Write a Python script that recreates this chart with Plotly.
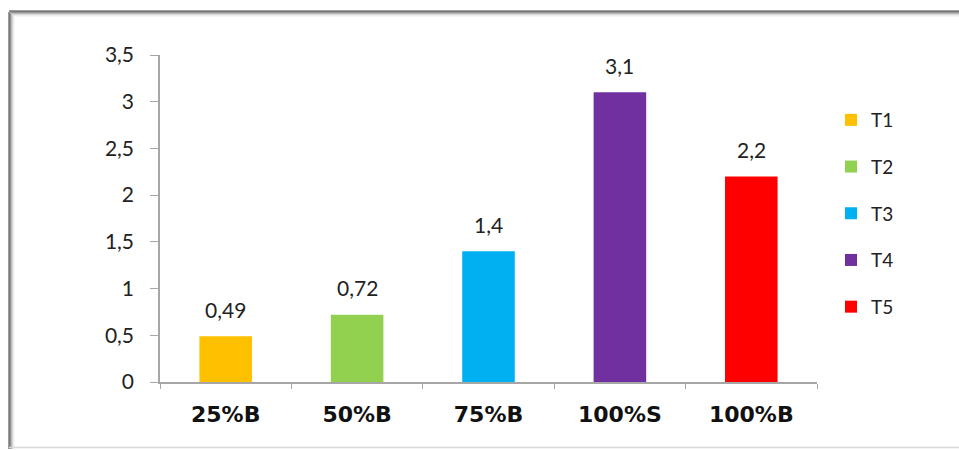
import plotly.graph_objects as go

categories = ["25%B", "50%B", "75%B", "100%S", "100%B"]
series_names = ["T1", "T2", "T3", "T4", "T5"]
values = [0.49, 0.72, 1.4, 3.1, 2.2]
labels = ["0,49", "0,72", "1,4", "3,1", "2,2"]
colors = ["#FFC000", "#92D050", "#00B0F0", "#7030A0", "#FF0000"]
tick_vals = [0, 0.5, 1, 1.5, 2, 2.5, 3, 3.5]
tick_text = ["0", "0,5", "1", "1,5", "2", "2,5", "3", "3,5"]

W, H = 959, 450
L, T = 160, 55
pw, ph = 657, 327
R, B = W - L - pw, H - T - ph

def px(x):
    return (x - L) / pw

def py(y):
    return (T + ph - y) / ph

fig = go.Figure()
for i, (cat, name, v, c) in enumerate(zip(categories, series_names, values, colors)):
    fig.add_trace(go.Bar(
        x=[cat], y=[v], name=name, marker=dict(color=c, line=dict(width=0)),
        width=0.4, legendgroup=name,
    ))
    fig.add_annotation(x=cat, y=v, text=labels[i], showarrow=False,
                       yshift=27, font=dict(family="Lato", size=21, color="#222"))

shapes = []
for k, col in enumerate(["#3a3a3a", "#555555", "#808080", "#b0b0b0", "#d8d8d8", "#efefef"]):
    shapes.append(dict(type="line", xref="paper", yref="paper",
                       x0=px(9 + k), x1=px(9 + k), y0=py(12 + k), y1=py(449),
                       line=dict(color=col, width=1)))
    shapes.append(dict(type="line", xref="paper", yref="paper",
                       x0=px(9 + k), x1=px(970), y0=py(11 + k), y1=py(11 + k),
                       line=dict(color=col, width=1)))
shapes.append(dict(type="line", xref="paper", yref="paper",
                   x0=px(9), x1=px(970), y0=py(447.5), y1=py(447.5),
                   line=dict(color="#d8d8d8", width=1.5)))

fig.update_layout(
    width=W, height=H,
    margin=dict(l=L, r=R, t=T, b=B),
    paper_bgcolor="white", plot_bgcolor="white",
    barmode="overlay",
    showlegend=True,
    legend=dict(x=px(831), y=py(101), xanchor="left", yanchor="top",
                font=dict(family="Lato", size=19, color="#222"),
                traceorder="grouped", tracegroupgap=19,
                itemwidth=30, bgcolor="rgba(0,0,0,0)"),
    shapes=shapes,
    xaxis=dict(type="category", categoryorder="array", categoryarray=categories,
               showline=True, linecolor="#a6a6a6", linewidth=1.5,
               ticks="outside", tickson="boundaries", ticklen=5, tickcolor="#a6a6a6",
               showgrid=False, zeroline=False, ticklabelstandoff=12,
               tickfont=dict(family="DejaVu Sans", size=22, color="#111", weight="bold"),
               range=[-0.5, 4.5]),
    yaxis=dict(range=[0, 3.5], tickvals=tick_vals, ticktext=tick_text,
               showline=True, linecolor="#a6a6a6", linewidth=1.5,
               ticks="outside", ticklen=8, tickcolor="#a6a6a6",
               showgrid=False, zeroline=False, ticklabelstandoff=12,
               tickfont=dict(family="Lato", size=21, color="#222")),
)

fig.write_html("out.html", config={"displayModeBar": False},
               post_script="document.body.style.margin='0';document.body.style.overflow='hidden';")
